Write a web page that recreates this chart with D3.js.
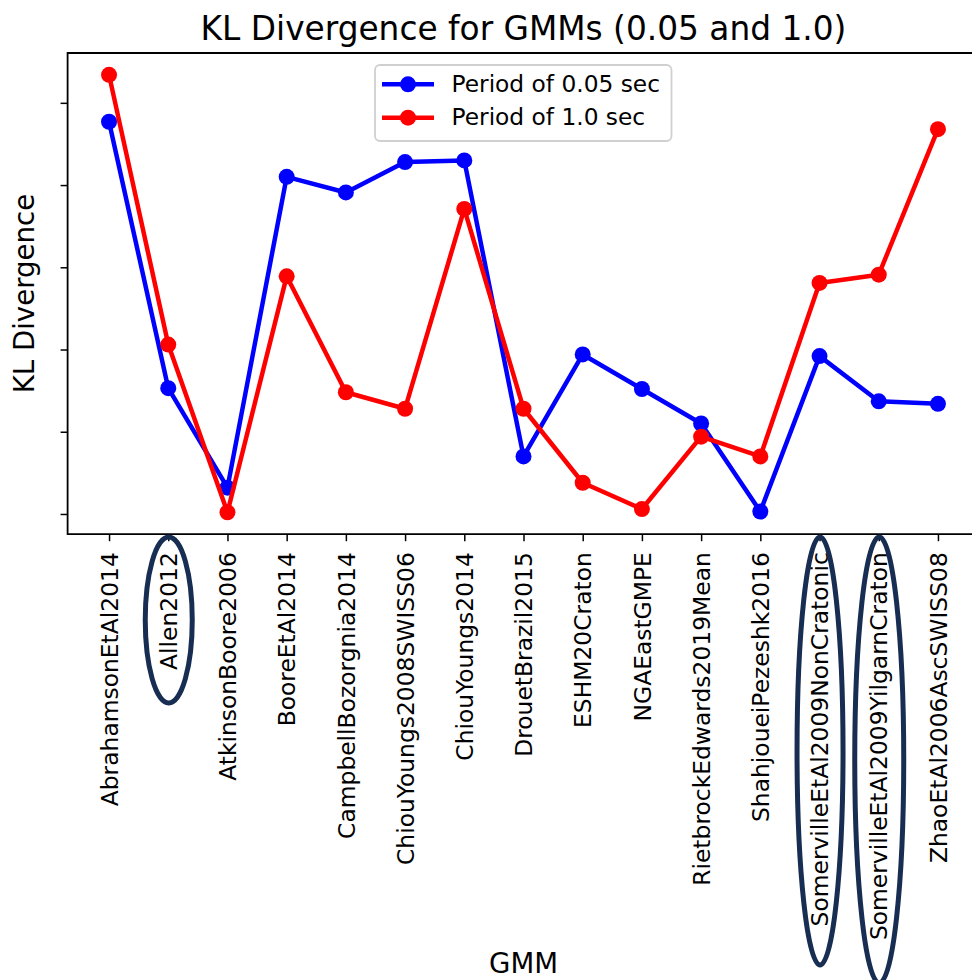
<!DOCTYPE html>
<html>
<head>
<meta charset="utf-8">
<script src="https://cdn.jsdelivr.net/npm/d3@7"></script>
<style>
  body { margin: 0; background: #fff; }
  svg { font-family: "DejaVu Sans", sans-serif; }
</style>
</head>
<body>
<svg id="chart" width="972" height="980"></svg>
<script>
// GMM names on the x axis
var gmms = [
  'AbrahamsonEtAl2014', 'Allen2012', 'AtkinsonBoore2006', 'BooreEtAl2014',
  'CampbellBozorgnia2014', 'ChiouYoungs2008SWISS06', 'ChiouYoungs2014',
  'DrouetBrazil2015', 'ESHM20Craton', 'NGAEastGMPE', 'RietbrockEdwards2019Mean',
  'ShahjoueiPezeshk2016', 'SomervilleEtAl2009NonCratonic',
  'SomervilleEtAl2009YilgarnCraton', 'ZhaoEtAl2006AscSWISS08'
]
// KL divergence, period 0.05 sec (y tick units)
var kl005 = [4.77, 1.53, 0.32, 4.10, 3.91, 4.28, 4.30, 0.70, 1.94, 1.52, 1.10, 0.03, 1.92, 1.37, 1.34]
// KL divergence, period 1.0 sec
var kl10 = [5.34, 2.06, 0.02, 2.89, 1.48, 1.28, 3.71, 1.28, 0.38, 0.06, 0.94, 0.70, 2.81, 2.91, 4.68]
// y ticks are drawn without labels in the original
var yTicks = [0, 1, 2, 3, 4, 5]
// labels that are circled
var circled = ['Allen2012', 'SomervilleEtAl2009NonCratonic', 'SomervilleEtAl2009YilgarnCraton']

var series = [
  { label: 'Period of 0.05 sec', values: kl005, color: '#0000ff' },
  { label: 'Period of 1.0 sec', values: kl10, color: '#ff0000' }
]

var svg = d3.select('#chart')
var axLeft = 67.6, axRight = 979.4, axTop = 53, axBottom = 534.2

// matplotlib style 5% margins
var x = d3.scaleLinear().domain([-0.7, gmms.length - 1 + 0.7]).range([axLeft, axRight])
var all = kl005.concat(kl10)
var lo = d3.min(all), hi = d3.max(all), pad = (hi - lo) * 0.05
var y = d3.scaleLinear().domain([lo - pad, hi + pad]).range([axBottom, axTop])

// lines and markers
var line = d3.line()
  .x(function (d, i) { return x(i) })
  .y(function (d) { return y(d) })

series.forEach(function (s) {
  svg.append('path')
    .attr('d', line(s.values))
    .attr('fill', 'none')
    .attr('stroke', s.color)
    .attr('stroke-width', 4.5)
    .attr('stroke-linejoin', 'round')
  svg.selectAll('.pt')
    .data(s.values)
    .enter()
    .append('circle')
    .attr('cx', function (d, i) { return x(i) })
    .attr('cy', function (d) { return y(d) })
    .attr('r', 8)
    .attr('fill', s.color)
})

// frame (right spine falls outside the picture)
svg.append('path')
  .attr('d', 'M' + axRight + ',' + axTop + 'H' + axLeft + 'V' + axBottom + 'H' + axRight)
  .attr('fill', 'none')
  .attr('stroke', '#000')
  .attr('stroke-width', 1.8)

// x axis
var xAxis = d3.axisBottom(x)
  .tickValues(d3.range(gmms.length))
  .tickFormat(function (i) { return gmms[i] })
  .tickSize(7)
  .tickSizeOuter(0)
var gx = svg.append('g')
  .attr('transform', 'translate(0,' + axBottom + ')')
  .call(xAxis)
gx.select('.domain').remove()
gx.selectAll('.tick line').attr('stroke', '#000').attr('stroke-width', 1.5)
gx.selectAll('.tick text')
  .attr('transform', 'rotate(-90)')
  .attr('x', -18)
  .attr('y', 0)
  .attr('dy', '0.35em')
  .attr('text-anchor', 'end')
  .attr('fill', '#000')
  .style('font-size', '23.4px')
  .style('font-family', '"DejaVu Sans", sans-serif')

// y axis, ticks only
var yAxis = d3.axisLeft(y)
  .tickValues(yTicks)
  .tickFormat('')
  .tickSize(7)
  .tickSizeOuter(0)
var gy = svg.append('g')
  .attr('transform', 'translate(' + axLeft + ',0)')
  .call(yAxis)
gy.select('.domain').remove()
gy.selectAll('.tick line').attr('stroke', '#000').attr('stroke-width', 1.5)

// titles
svg.append('text')
  .attr('x', (axLeft + axRight) / 2)
  .attr('y', 39.5)
  .attr('text-anchor', 'middle')
  .style('font-size', '32.8px')
  .text('KL Divergence for GMMs (0.05 and 1.0)')

svg.append('text')
  .attr('transform', 'translate(34,' + (axTop + axBottom) / 2 + ') rotate(-90)')
  .attr('text-anchor', 'middle')
  .style('font-size', '27.6px')
  .text('KL Divergence')

svg.append('text')
  .attr('x', (axLeft + axRight) / 2)
  .attr('y', 973)
  .attr('text-anchor', 'middle')
  .style('font-size', '27.6px')
  .text('GMM')

// legend
var lg = svg.append('g')
lg.append('rect')
  .attr('x', 375).attr('y', 65)
  .attr('width', 296.5).attr('height', 76)
  .attr('rx', 5)
  .attr('fill', '#fff')
  .attr('fill-opacity', 0.8)
  .attr('stroke', '#d0d0d0')
  .attr('stroke-width', 1.8)
series.forEach(function (s, i) {
  var ry = 84.3 + i * 33.4
  lg.append('line')
    .attr('x1', 382).attr('x2', 434)
    .attr('y1', ry).attr('y2', ry)
    .attr('stroke', s.color)
    .attr('stroke-width', 4.5)
  lg.append('circle')
    .attr('cx', 408).attr('cy', ry).attr('r', 8)
    .attr('fill', s.color)
  lg.append('text')
    .attr('x', 451.5).attr('y', ry)
    .attr('dy', '0.32em')
    .style('font-size', '23.3px')
    .text(s.label)
})

// ellipses drawn around the circled labels
var ellipses = {
  'Allen2012': { cy: 620, rx: 23.5, ry: 83 },
  'SomervilleEtAl2009NonCratonic': { cy: 751, rx: 23, ry: 214 },
  'SomervilleEtAl2009YilgarnCraton': { cy: 760, rx: 24.5, ry: 223 }
}
circled.forEach(function (name) {
  var e = ellipses[name]
  svg.append('ellipse')
    .attr('cx', x(gmms.indexOf(name)) + 0.5)
    .attr('cy', e.cy)
    .attr('rx', e.rx)
    .attr('ry', e.ry)
    .attr('fill', 'none')
    .attr('stroke', '#182d52')
    .attr('stroke-width', 5)
})
</script>
</body>
</html>
